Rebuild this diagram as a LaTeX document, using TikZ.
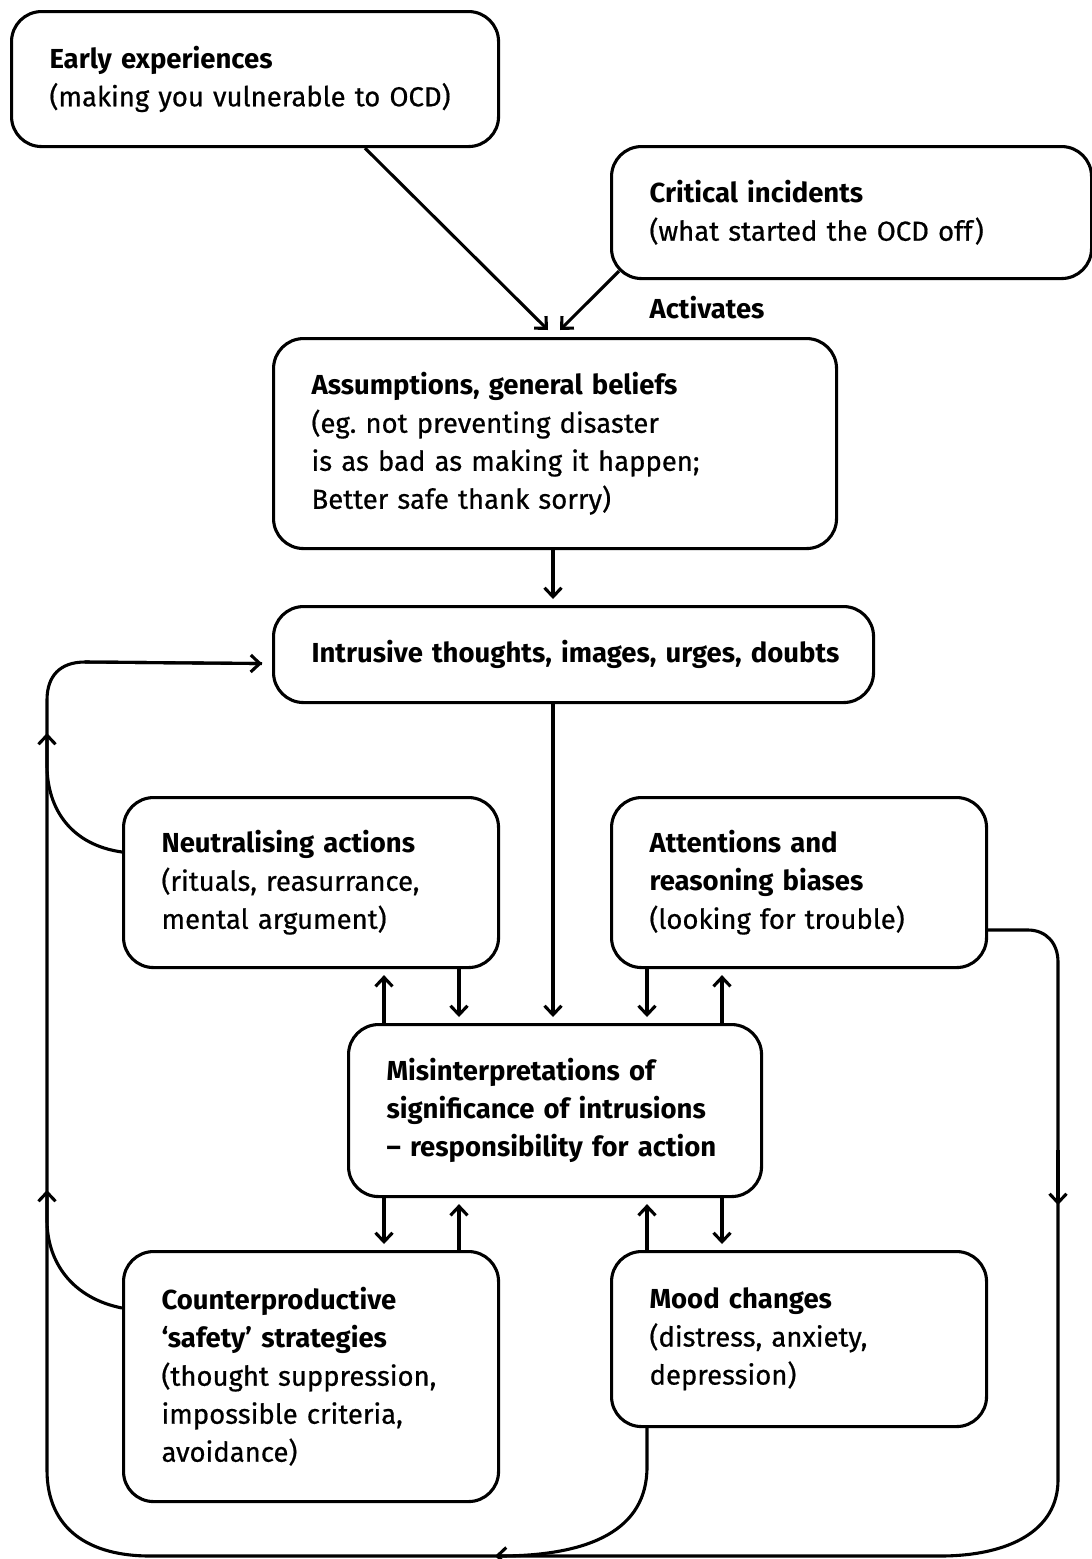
\documentclass[tikz,border=0pt]{standalone}
\usepackage{fontspec}
\setmainfont{Fira Sans}[UprightFeatures={FakeBold=0.6}]
\usetikzlibrary{arrows.meta,calc}
\begin{document}
\begin{tikzpicture}[x=1pt,y=-1pt, line width=3.1pt,
  box/.style={draw, rounded corners=30pt, anchor=north west, align=left,
    inner xsep=38pt, inner ysep=0pt, font=\fontsize{27.5}{38}\selectfont},
  arr/.style={-{Straight Barb[length=9pt,width=17pt]}}]
\useasboundingbox (0,0) rectangle (1092,1559);
\node[box, minimum width=487pt, minimum height=135pt, text width=411pt] (early) at (10,10)
  {\textbf{Early experiences}\\(making you vulnerable to OCD)};
\node[box, minimum width=480pt, minimum height=132pt, text width=404pt] (crit) at (610,145)
  {\textbf{Critical incidents}\\(what started the OCD off)};
\node[anchor=west, inner sep=0pt, font=\bfseries\fontsize{27.5}{38}\selectfont] (act) at (648,308) {Activates};
\node[box, minimum width=563pt, minimum height=210pt, text width=487pt] (assump) at (272,337)
  {\textbf{Assumptions, general beliefs}\\(eg.\ not preventing disaster\\is as bad as making it happen;\\Better safe thank sorry)};
\node[box, minimum width=600pt, minimum height=96pt, text width=524pt] (intr) at (272,605)
  {\mbox{\textbf{Intrusive thoughts, images, urges, doubts}}};
\node[box, minimum width=375pt, minimum height=170pt, text width=299pt] (neut) at (122,796)
  {\textbf{Neutralising actions}\\(rituals, reasurrance,\\mental argument)};
\node[box, minimum width=375pt, minimum height=170pt, text width=299pt] (attn) at (610,796)
  {\textbf{Attentions and}\\\textbf{reasoning biases}\\(looking for trouble)};
\node[box, minimum width=413pt, minimum height=172pt, text width=337pt] (mis) at (347,1023)
  {\textbf{Misinterpretations of}\\\textbf{significance of intrusions}\\\textbf{-- responsibility for action}};
\node[box, minimum width=375pt, minimum height=250pt, text width=299pt] (counter) at (122,1250)
  {\textbf{Counterproductive}\\\textbf{`safety' strategies}\\(thought suppression,\\impossible criteria,\\avoidance)};
\node[box, minimum width=375pt, minimum height=175pt, text width=299pt] (mood) at (610,1250)
  {\textbf{Mood changes}\\(distress, anxiety,\\depression)};

% top connectors
\draw[arr] ($(early.south west)+(355,0)$) -- ($(assump.north west)+(276,-7)$);
\draw[arr] ($(crit.south west)+(9,-9)$) -- ($(assump.north west)+(288,-7)$);
\draw[arr] ($(assump.south west)+(281,0)$) -- ($(intr.north west)+(281,-6)$);
\draw[arr] ($(intr.south west)+(281,0)$) -- ($(mis.north west)+(206,-6)$);
% around misinterpretations
\draw[arr] ($(neut.south west)+(337,0)$) -- ($(mis.north west)+(112,-6)$);
\draw[arr] ($(mis.north west)+(37,0)$) -- ($(neut.south west)+(262,6)$);
\draw[arr] ($(attn.south west)+(37,0)$) -- ($(mis.north west)+(300,-6)$);
\draw[arr] ($(mis.north west)+(375,0)$) -- ($(attn.south west)+(112,6)$);
\draw[arr] ($(mis.south west)+(37,0)$) -- ($(counter.north west)+(262,-6)$);
\draw[arr] ($(counter.north west)+(337,0)$) -- ($(mis.south west)+(112,6)$);
\draw[arr] ($(mood.north west)+(37,0)$) -- ($(mis.south west)+(300,6)$);
\draw[arr] ($(mis.south west)+(375,0)$) -- ($(mood.north west)+(112,-6)$);

% big loop
\coordinate (rtop) at (1058,962);
\coordinate (rmid) at (1058,1205);
\coordinate (lbot) at (47,1470);
\coordinate (ltop) at (47,700);
\draw ($(attn.north east)+(0,134)$) -- (1028,930) .. controls (1046,930) and (1058,943) .. (rtop)
  -- (1058,1480) .. controls (1058,1530) and (1010,1556) .. (940,1556)
  -- (150,1556) .. controls (90,1556) and (47,1530) .. (lbot)
  -- (ltop) .. controls (47,676) and (60,662) .. (85,662)
  -- ($(intr.west)+(-10,9)$);
\draw[arr] (85,662) -- ($(intr.west)+(-10,9)$);
\draw[arr] (1058,1150) -- (rmid);
% branches
\draw[arr] ($(neut.north west)+(0,56)$) .. controls (72,845) and (47,810) .. (47,765) -- (47,733);
\draw[arr] ($(counter.north west)+(0,58)$) .. controls (72,1298) and (47,1262) .. (47,1220) -- (47,1190);
\draw[arr] ($(mood.south west)+(37,0)$) -- (647,1467) .. controls (647,1530) and (590,1556) .. (495,1556);
\end{tikzpicture}
\end{document}
